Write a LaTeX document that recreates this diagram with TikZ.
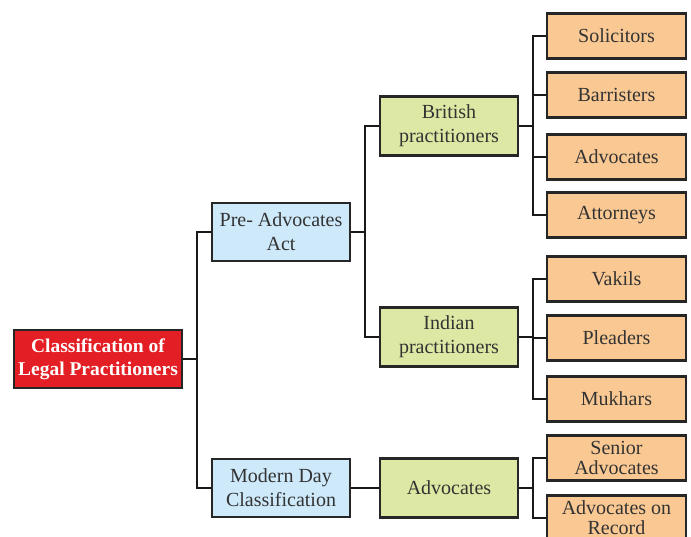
\documentclass[tikz,border=0pt]{standalone}
\usepackage{fontspec}
\setmainfont{Liberation Serif}
\definecolor{rootred}{HTML}{E31E24}
\definecolor{actblue}{HTML}{CDE9FA}
\definecolor{kindgreen}{HTML}{DDE8A4}
\definecolor{leaforange}{HTML}{FAC993}

\begin{document}
\begin{tikzpicture}[x=1pt,y=-1pt,
	box/.style={draw=black!85,line width=2.8pt,align=center,inner sep=0pt,text=black!80,font=\fontsize{20}{24}\selectfont},
	rootbox/.style={box,fill=rootred,text=white,font=\fontsize{19.5}{23}\selectfont\bfseries,minimum width=168pt,minimum height=58pt},
	actbox/.style={box,fill=actblue,minimum width=138pt,minimum height=58pt},
	kindbox/.style={box,fill=kindgreen,minimum width=138pt,minimum height=59pt},
	leafbox/.style={box,fill=leaforange,minimum width=139pt,minimum height=45pt,font=\fontsize{20}{20}\selectfont},
	link/.style={draw=black!90,line width=2.5pt}]
			\useasboundingbox (0,0) rectangle (691,536);
			\clip (0,0) rectangle (691,536);
			\node[rootbox] (root) at (98,359) {Classification of\\Legal Practitioners};
			\node[actbox] (pre) at (281,232) {Pre- Advocates\\Act};
			\node[actbox] (modern) at (281,488) {Modern Day\\Classification};
			\node[kindbox] (british) at (449,126) {British\\practitioners};
			\node[kindbox] (indian) at (449,337) {Indian\\practitioners};
			\node[kindbox] (advocates) at (449,488) {Advocates};
			\node[leafbox] (solicitors) at (616.5,36) {Solicitors};
			\node[leafbox] (barristers) at (616.5,95) {Barristers};
			\node[leafbox] (advs) at (616.5,157) {Advocates};
			\node[leafbox] (attorneys) at (616.5,215) {Attorneys};
			\node[leafbox] (vakils) at (616.5,279) {Vakils};
			\node[leafbox] (pleaders) at (616.5,338) {Pleaders};
			\node[leafbox] (mukhars) at (616.5,399) {Mukhars};
			\node[leafbox] (senior) at (616.5,458) {Senior\\Advocates};
			\node[leafbox] (record) at (616.5,518) {Advocates on\\Record};
			% elbow joints
			\coordinate (rootbus) at (197,359);
			\coordinate (prebus) at (365,232);
			\coordinate (britbus) at (533,126);
			\coordinate (indbus) at (533,337);
			\coordinate (advbus) at (533,488);
			\draw[link] (root.east) -- (rootbus);
			\draw[link] (rootbus) |- (pre.west);
			\draw[link] (rootbus) |- (modern.west);
			\draw[link] (pre.east) -- (prebus);
			\draw[link] (prebus) |- (british.west);
			\draw[link] (prebus) |- (indian.west);
			\draw[link] (modern.east) -- (advocates.west);
			\draw[link] (british.east) -- (britbus);
			\draw[link] (britbus) |- (solicitors.west);
			\draw[link] (britbus) |- (barristers.west);
			\draw[link] (britbus) |- (advs.west);
			\draw[link] (britbus) |- (attorneys.west);
			\draw[link] (indian.east) -- (indbus);
			\draw[link] (indbus) |- (vakils.west);
			\draw[link] (indbus) |- (pleaders.west);
			\draw[link] (indbus) |- (mukhars.west);
			\draw[link] (advocates.east) -- (advbus);
			\draw[link] (advbus) |- (senior.west);
			\draw[link] (advbus) |- (record.west);
		\end{tikzpicture}
\end{document}
